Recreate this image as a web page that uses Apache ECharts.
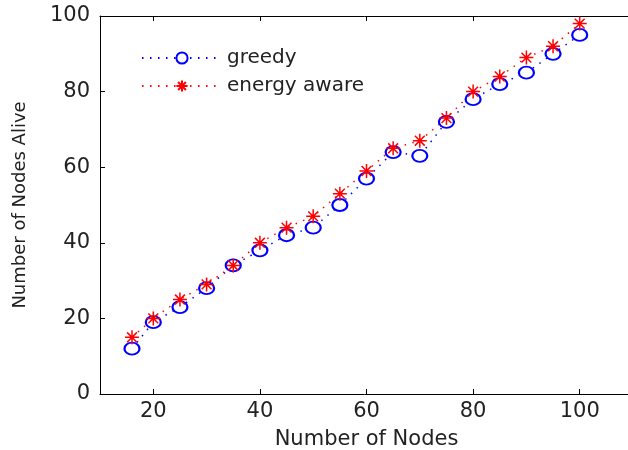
<!DOCTYPE html>
<html><head><meta charset="utf-8">
<script src="https://cdn.jsdelivr.net/npm/echarts@6/dist/echarts.min.js"></script>
<style>html,body{margin:0;padding:0;background:#fff}#c{width:628px;height:450px}</style>
</head><body><div id="c"></div>
<script>
const nodes = [16,20,25,30,35,40,45,50,55,60,65,70,75,80,85,90,95,100];
const greedy = [12,19,23,28,34,38,42,44,50,57,64,63,72,78,82,85,90,95];
const energyAware = [15,20,25,29,34,40,44,47,53,59,65,67,73,80,84,89,92,98];
const xTicks = [20,40,60,80,100];
const seriesNames = ['greedy','energy aware'];
const xTitle = 'Number of Nodes';
const yTitle = 'Number of Nodes Alive';

const star = 'path://M0,-10L0,10M-10,0L10,0M-7,-7L7,7M-7,7L7,-7';
const font = 'DejaVu Sans, sans-serif';
const txt = '#222';
const chart = echarts.init(document.getElementById('c'), null, {renderer:'canvas'});
const pair = (xs, ys) => xs.map((x,i)=>[x, ys[i]]);
const tick = {show:true,inside:true,length:5,lineStyle:{color:'#000'}};
const line = {show:true,lineStyle:{color:'#000',width:1}};
chart.setOption({
  animation:false,
  backgroundColor:'#fff',
  grid:{left:100, top:16, width:533, height:378, containLabel:false, outerBoundsMode:'none'},
  legend:{
    orient:'vertical', left:136, top:43, itemWidth:80, itemHeight:14, itemGap:8,
    textStyle:{fontFamily:font,fontSize:20,color:txt},
    data:seriesNames
  },
  xAxis:[
    {type:'value', min:10, max:110, position:'bottom', axisLine:line, splitLine:{show:false},
      axisTick:Object.assign({customValues:xTicks}, tick),
      axisLabel:{fontFamily:font,fontSize:21,color:txt,margin:7,customValues:xTicks},
      name:xTitle, nameLocation:'middle', nameGap:35,
      nameTextStyle:{fontFamily:font,fontSize:21,color:txt}},
    {type:'value', min:10, max:110, position:'top', axisLine:line, splitLine:{show:false},
      axisTick:Object.assign({customValues:xTicks}, tick),
      axisLabel:{show:false}}
  ],
  yAxis:[
    {type:'value', min:0, max:100, interval:20, axisLine:line, splitLine:{show:false},
      axisTick:tick,
      axisLabel:{fontFamily:font,fontSize:21,color:txt,margin:10},
      name:yTitle, nameLocation:'middle', nameGap:71, nameRotate:90,
      nameTextStyle:{fontFamily:font,fontSize:18,color:txt}}
  ],
  series:[
    {name:seriesNames[0], type:'line', data:pair(nodes, greedy),
     symbol:'emptyCircle', symbolSize:[15,12], showAllSymbol:true,
     lineStyle:{color:'#0000ff',width:1.5,type:[1.5,6.5]},
     itemStyle:{color:'#0000ff',borderColor:'#0000ff',borderWidth:1.5}},
    {name:seriesNames[1], type:'line', data:pair(nodes, energyAware),
     symbol:star, symbolSize:14, showAllSymbol:true,
     lineStyle:{color:'#ff0000',width:1.5,type:[1.5,6.5]},
     itemStyle:{color:'#ff0000',borderColor:'#ff0000',borderWidth:1.5}}
  ]
});
</script></body></html>
